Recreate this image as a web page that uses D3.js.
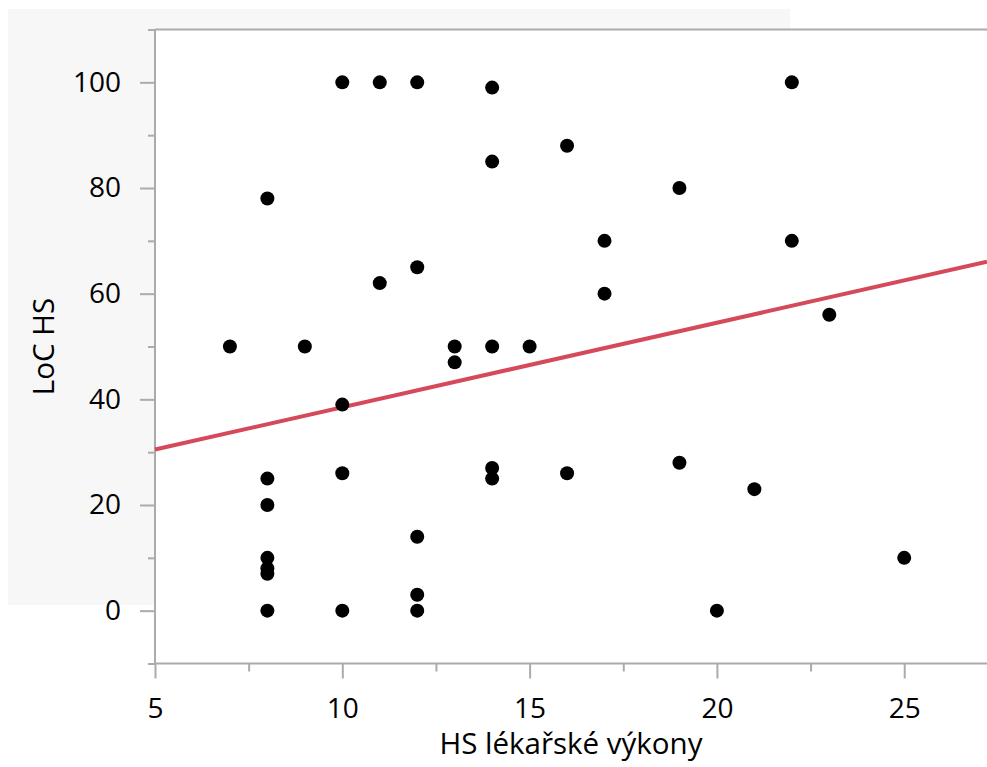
<!DOCTYPE html>
<html>
<head>
<meta charset="utf-8">
<script src="https://cdn.jsdelivr.net/npm/d3@7"></script>
<style>
    body { margin: 0; background: #fff; }
    svg { display: block; font-family: "Open Sans", "Noto Sans", sans-serif; }
</style>
</head>
<body>
<div id="chart"></div>
<script>
// HS lékařské výkony (x) vs LoC HS (y)
const xValues = [7, 8, 8, 8, 8, 8, 8, 8, 9, 10, 10, 10, 10, 11, 11, 12, 12, 12, 12, 12,
    13, 13, 14, 14, 14, 14, 14, 15, 16, 16, 17, 17, 19, 19, 20, 21, 22, 22, 23, 25];
const yValues = [50, 78, 25, 20, 10, 8, 7, 0, 50, 100, 39, 26, 0, 100, 62, 100, 65, 14, 3, 0,
    50, 47, 99, 85, 50, 27, 25, 50, 88, 26, 70, 60, 80, 28, 0, 23, 100, 70, 56, 10];

// fitted line, y = intercept + slope * x
const fitIntercept = 22.5;
const fitSlope = 1.6;

const xTicks = [5, 10, 15, 20, 25];
const xMinorTicks = [7.5, 12.5, 17.5, 22.5];
const yTicks = [0, 20, 40, 60, 80, 100];
const yMinorTicks = [-10, 10, 30, 50, 70, 90, 110];

const xTitle = "HS lékařské výkony";
const yTitle = "LoC HS";

const width = 987;
const height = 767;
const margin = { top: 29.5, right: 0, bottom: 103.5, left: 155 };

const axisColor = "#ababab";
const lineColor = "#d5495b";
const fontFamily = '"Open Sans", "Noto Sans", sans-serif';

const svg = d3.select("#chart")
    .append("svg")
    .attr("width", width)
    .attr("height", height);

// light panel behind the upper-left part
svg.append("rect")
    .attr("x", 8)
    .attr("y", 9)
    .attr("width", 782)
    .attr("height", 596)
    .attr("fill", "#f7f7f7");

const x = d3.scaleLinear()
    .domain([5, 27.21])
    .range([margin.left, width - margin.right]);

const y = d3.scaleLinear()
    .domain([-10, 110])
    .range([height - margin.bottom, margin.top]);

svg.append("rect")
    .attr("x", margin.left)
    .attr("y", margin.top)
    .attr("width", width - margin.left - margin.right)
    .attr("height", height - margin.top - margin.bottom)
    .attr("fill", "#fff");

function styleAxis(g) {
    g.attr("font-family", fontFamily).attr("font-size", 28);
    g.select(".domain").remove();
    g.selectAll(".tick line")
        .attr("stroke", axisColor)
        .attr("stroke-width", 2);
    g.selectAll(".tick text")
        .attr("fill", "#000");
}

// minor ticks
svg.append("g")
    .attr("transform", `translate(${margin.left},0)`)
    .call(d3.axisLeft(y).tickValues(yMinorTicks).tickSize(7).tickFormat(""))
    .call(styleAxis);

svg.append("g")
    .attr("transform", `translate(0,${height - margin.bottom})`)
    .call(d3.axisBottom(x).tickValues(xMinorTicks).tickSize(8).tickFormat(""))
    .call(styleAxis);

// major ticks
svg.append("g")
    .attr("transform", `translate(${margin.left},0)`)
    .call(d3.axisLeft(y).tickValues(yTicks).tickSize(15).tickPadding(19))
    .call(styleAxis);

svg.append("g")
    .attr("transform", `translate(0,${height - margin.bottom})`)
    .call(d3.axisBottom(x).tickValues(xTicks).tickSize(15))
    .call(styleAxis)
    .call(g => g.selectAll(".tick text").attr("y", 54).attr("dy", null));

// frame lines: left, bottom, top
const frame = svg.append("g")
    .attr("stroke", axisColor)
    .attr("stroke-width", 2);

frame.append("line")
    .attr("x1", margin.left).attr("x2", margin.left)
    .attr("y1", y(110)).attr("y2", y(-10));
frame.append("line")
    .attr("x1", margin.left).attr("x2", width)
    .attr("y1", y(-10)).attr("y2", y(-10));
frame.append("line")
    .attr("x1", margin.left).attr("x2", width)
    .attr("y1", y(110)).attr("y2", y(110));

// fit line
const xDomain = x.domain();
svg.append("line")
    .attr("x1", x(xDomain[0]))
    .attr("y1", y(fitIntercept + fitSlope * xDomain[0]))
    .attr("x2", x(xDomain[1]))
    .attr("y2", y(fitIntercept + fitSlope * xDomain[1]))
    .attr("stroke", lineColor)
    .attr("stroke-width", 4);

// points
svg.append("g")
    .selectAll("circle")
    .data(d3.zip(xValues, yValues))
    .enter()
    .append("circle")
    .attr("cx", d => x(d[0]))
    .attr("cy", d => y(d[1]))
    .attr("r", 7)
    .attr("fill", "#000");

// axis titles
svg.append("text")
    .attr("x", (margin.left + width) / 2)
    .attr("y", 754)
    .attr("text-anchor", "middle")
    .attr("fill", "#000")
    .style("font-size", "29.5px")
    .text(xTitle);

svg.append("text")
    .attr("transform", `translate(54, ${(y(110) + y(-10)) / 2}) rotate(-90)`)
    .attr("text-anchor", "middle")
    .attr("fill", "#000")
    .style("font-size", "29.5px")
    .text(yTitle);
</script>
</body>
</html>
